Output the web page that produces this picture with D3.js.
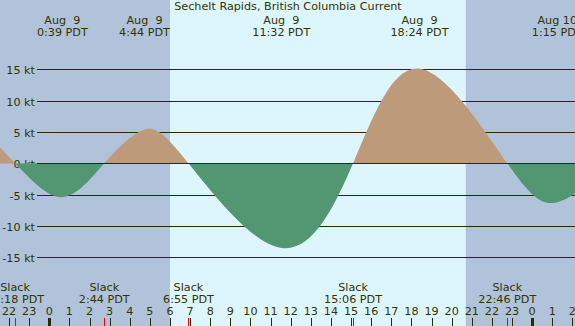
<!DOCTYPE html>
<html>
<head>
<meta charset="utf-8">
<script src="https://cdn.jsdelivr.net/npm/d3@7"></script>
<style>
body { margin: 0; }
svg { display: block; }
text { font-family: "DejaVu Sans"; font-size: 11.2px; fill: #333300; white-space: pre; }
</style>
</head>
<body>
<div id="chart"></div>
<script>
const W = 575;
const H = 326;

// times are hours after midnight, Aug 9 PDT
const maxTimes = [0.65, 4.733, 11.533, 18.4, 25.25];
const maxDates = ["Aug  9", "Aug  9", "Aug  9", "Aug  9", "Aug 10"];
const maxLabels = ["0:39 PDT", "4:44 PDT", "11:32 PDT", "18:24 PDT", "1:15 PDT"];
const maxValues = [-5.4, 5.4, -13.5, 15.1, -6.2];

const slackTimes = [-1.7, 2.733, 6.917, 15.1, 22.767];
const slackLabels = ["22:18 PDT", "2:44 PDT", "6:55 PDT", "15:06 PDT", "22:46 PDT"];

// events just outside the window, estimated from the curve at the edges
const edgeTimes = [-4.7, 28.0, 31.0];
const edgeValues = [10, 0, 8];

const daylight = [[6.0, 20.7]];
const yTicks = [15, 10, 5, 0, -5, -10, -15];
const hourTicks = d3.range(-2, 27);

const x = d3.scaleLinear().domain([-2.45, 26.13]).range([0, W]);
const y = d3.scaleLinear().domain([0, 15]).range([163.3, 69.3]);

var svg = d3.select('#chart')
    .append('svg')
    .attr('width', W)
    .attr('height', H);

// night background, then daylight band
svg.append('rect')
    .attr('width', W)
    .attr('height', H)
    .attr('fill', '#b0c3da');

svg.selectAll('rect.day')
    .data(daylight)
    .enter()
    .append('rect')
    .attr('class', 'day')
    .attr('x', d => x(d[0]))
    .attr('width', d => x(d[1]) - x(d[0]))
    .attr('height', H)
    .attr('fill', '#ddf6fe');

// grid lines and labels
svg.selectAll('line.grid')
    .data(yTicks)
    .enter()
    .append('line')
    .attr('class', 'grid')
    .attr('x1', 37)
    .attr('x2', W)
    .attr('y1', d => Math.round(y(d)) + 0.5)
    .attr('y2', d => Math.round(y(d)) + 0.5)
    .attr('stroke', '#2e2a00');

svg.selectAll('text.ylab')
    .data(yTicks)
    .enter()
    .append('text')
    .attr('class', 'ylab')
    .attr('x', 35)
    .attr('y', d => Math.round(y(d)) + 4.5)
    .attr('text-anchor', 'end')
    .text(d => d + ' kt');

// current curve through slacks and maxima
let pts = [];
for (let i = 0; i < edgeTimes.length; i++) pts.push([edgeTimes[i], edgeValues[i]]);
for (let i = 0; i < slackTimes.length; i++) pts.push([slackTimes[i], 0]);
for (let i = 0; i < maxTimes.length; i++) pts.push([maxTimes[i], maxValues[i]]);
pts.sort((a, b) => a[0] - b[0]);

let defs = svg.append('defs');
defs.append('clipPath').attr('id', 'flood')
    .append('rect').attr('x', 0).attr('y', 0).attr('width', W).attr('height', y(0));
defs.append('clipPath').attr('id', 'ebb')
    .append('rect').attr('x', 0).attr('y', y(0)).attr('width', W).attr('height', H - y(0));

let area = d3.area()
    .x(d => x(d[0]))
    .y0(y(0))
    .y1(d => y(d[1]))
    .curve(d3.curveNatural);

svg.append('path')
    .datum(pts)
    .attr('d', area)
    .attr('fill', '#bd9b7a')
    .attr('clip-path', 'url(#flood)');

svg.append('path')
    .datum(pts)
    .attr('d', area)
    .attr('fill', '#529672')
    .attr('clip-path', 'url(#ebb)');

svg.append('line')
    .attr('x1', 37)
    .attr('x2', W)
    .attr('y1', Math.round(y(0)) + 0.5)
    .attr('y2', Math.round(y(0)) + 0.5)
    .attr('stroke', '#2e2a00');

// title
svg.append('text')
    .attr('x', 288)
    .attr('y', 10)
    .attr('text-anchor', 'middle')
    .text('Sechelt Rapids, British Columbia Current');

// max current labels along the top
svg.selectAll('text.mdate')
    .data(maxTimes)
    .enter()
    .append('text')
    .attr('class', 'mdate')
    .attr('x', d => x(d))
    .attr('y', 24)
    .attr('text-anchor', 'middle')
    .text((d, i) => maxDates[i]);

svg.selectAll('text.mtime')
    .data(maxTimes)
    .enter()
    .append('text')
    .attr('class', 'mtime')
    .attr('x', d => x(d))
    .attr('y', 36)
    .attr('text-anchor', 'middle')
    .text((d, i) => maxLabels[i]);

// slack labels along the bottom
svg.selectAll('text.slack')
    .data(slackTimes)
    .enter()
    .append('text')
    .attr('class', 'slack')
    .attr('x', d => x(d))
    .attr('y', 291)
    .attr('text-anchor', 'middle')
    .text('Slack');

svg.selectAll('text.stime')
    .data(slackTimes)
    .enter()
    .append('text')
    .attr('class', 'stime')
    .attr('x', d => x(d))
    .attr('y', 303)
    .attr('text-anchor', 'middle')
    .text((d, i) => slackLabels[i]);

// hour ticks
svg.selectAll('text.hour')
    .data(hourTicks)
    .enter()
    .append('text')
    .attr('class', 'hour')
    .attr('x', d => x(d))
    .attr('y', 315)
    .attr('text-anchor', 'middle')
    .text(d => ((d % 24) + 24) % 24);

svg.selectAll('line.hour')
    .data(hourTicks)
    .enter()
    .append('line')
    .attr('class', 'hour')
    .attr('x1', d => Math.round(x(d)) + 0.5)
    .attr('x2', d => Math.round(x(d)) + 0.5)
    .attr('y1', 318)
    .attr('y2', H)
    .attr('stroke', '#2e2a00')
    .attr('stroke-width', d => d % 24 == 0 ? 3 : 1);

svg.selectAll('line.slack')
    .data(slackTimes)
    .enter()
    .append('line')
    .attr('class', 'slack')
    .attr('x1', d => Math.round(x(d)) + 0.5)
    .attr('x2', d => Math.round(x(d)) + 0.5)
    .attr('y1', 318)
    .attr('y2', H)
    .attr('stroke', '#ff0000');
</script>
</body>
</html>
